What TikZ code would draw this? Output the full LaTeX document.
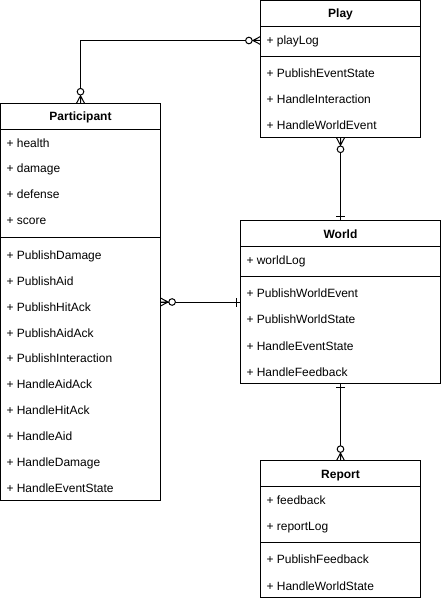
\documentclass[tikz,border=0pt]{standalone}
\usepackage{fontspec}
\setmainfont{Liberation Sans}
\usetikzlibrary{positioning}

\tikzset{
  classbox/.style={draw, rectangle, inner sep=0pt, outer sep=0pt, anchor=north west},
  title/.style={anchor=base, yshift=-4.3pt, inner sep=0pt, font=\bfseries\fontsize{12}{14}\selectfont},
  item/.style={anchor=base west, yshift=-4.3pt, inner sep=0pt, font=\fontsize{12}{14}\selectfont},
  % zero or many (circle + crow's foot), pointing away from the box
  zeromany/.pic={
    \draw (0,-4) -- (7.6,0) -- (0,4) (0,0) -- (7.6,0);
    \draw[fill=white] (11.6,0) circle (3.3);
  },
  % exactly one (single bar)
  onebar/.pic={
    \draw (4,-4.5) -- (4,4.5);
  }
}

\begin{document}
\begin{tikzpicture}[x=1pt, y=-1pt, line width=1pt]
    \useasboundingbox (0,0) rectangle (441,602);

    % Play
    \node[classbox, minimum width=160pt, minimum height=137.2pt] (play) at (260.5,0.5) {};
    \node[title] (play-t) at (340.5,13.5) {Play};
    \draw (260.5,26.5) -- (420.5,26.5);
    \node[item] (play-a1) at (266,40) {+ playLog};
    \draw (260.5,56.7) -- (420.5,56.7);
    \foreach \m [count=\i from 0] in {PublishEventState, HandleInteraction, HandleWorldEvent}
        \node[item] (play-m\i) at (266,{73+26.3*\i}) {+ \m};

    % Participant
    \node[classbox, minimum width=160pt, minimum height=397.4pt] (participant) at (0.5,103.3) {};
    \node[title] (participant-t) at (80.5,116.3) {Participant};
    \draw (0.5,129.3) -- (160.5,129.3);
    \foreach \a [count=\i from 0] in {health, damage, defense, score}
        \node[item] (participant-a\i) at (6,{142.7+25.9*\i}) {+ \a};
    \draw (0.5,237.4) -- (160.5,237.4);
    \foreach \m [count=\i from 0] in {PublishDamage, PublishAid, PublishHitAck, PublishAidAck, PublishInteraction, HandleAidAck, HandleHitAck, HandleAid, HandleDamage, HandleEventState}
        \node[item] (participant-m\i) at (6,{255+25.9*\i}) {+ \m};

    % World
    \node[classbox, minimum width=200pt, minimum height=162.6pt] (world) at (240.5,220.7) {};
    \node[title] (world-t) at (340.5,233.7) {World};
    \draw (240.5,246.5) -- (440.5,246.5);
    \node[item] (world-a1) at (246,260) {+ worldLog};
    \draw (240.5,276.3) -- (440.5,276.3);
    \foreach \m [count=\i from 0] in {PublishWorldEvent, PublishWorldState, HandleEventState, HandleFeedback}
        \node[item] (world-m\i) at (246,{293.3+26.2*\i}) {+ \m};

    % Report
    \node[classbox, minimum width=160pt, minimum height=137pt] (report) at (260.5,460.7) {};
    \node[title] (report-t) at (340.5,473.7) {Report};
    \draw (260.5,486.7) -- (420.5,486.7);
    \foreach \a [count=\i from 0] in {feedback, reportLog}
        \node[item] (report-a\i) at (266,{500+26*\i}) {+ \a};
    \draw (260.5,542.3) -- (420.5,542.3);
    \foreach \m [count=\i from 0] in {PublishFeedback, HandleWorldState}
        \node[item] (report-m\i) at (266,{559.3+26.4*\i}) {+ \m};

    % Relations
    \coordinate (playlink) at ([yshift=-40pt]play.north west);
    \coordinate (worldlink) at (participant.east -| world.west);
    \draw (participant.north) |- (playlink);
    \draw (play.south) -- (world.north);
    \draw (participant.east) -- (worldlink);
    \draw (world.south) -- (report.north);

    \pic[rotate=90] at (participant.north) {zeromany};
    \pic[rotate=180] at (playlink) {zeromany};
    \pic[rotate=-90] at (play.south) {zeromany};
    \pic[rotate=90] at (world.north) {onebar};
    \pic at (participant.east) {zeromany};
    \pic[rotate=180] at (worldlink) {onebar};
    \pic[rotate=-90] at (world.south) {onebar};
    \pic[rotate=90] at (report.north) {zeromany};
\end{tikzpicture}
\end{document}
